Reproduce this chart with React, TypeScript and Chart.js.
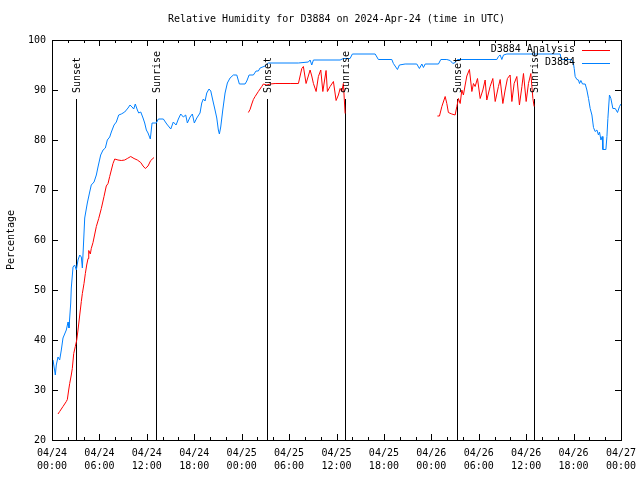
import React, { useEffect, useRef } from "react";
import { Chart, registerables } from "chart.js";

Chart.register(...registerables);

// ---- Data (hours since 2024-04-24 00:00 UTC) ----
const tickHours = [0, 6, 12, 18, 24, 30, 36, 42, 48, 54, 60, 66, 72];
const tickDates = ["04/24", "04/24", "04/24", "04/24", "04/25", "04/25", "04/25", "04/25", "04/26", "04/26", "04/26", "04/26", "04/27"];
const tickTimes = ["00:00", "06:00", "12:00", "18:00", "00:00", "06:00", "12:00", "18:00", "00:00", "06:00", "12:00", "18:00", "00:00"];

const sunHours = [3.04, 13.16, 27.17, 37.09, 51.22, 61.05];
const sunLabels = ["Sunset", "Sunrise", "Sunset", "Sunrise", "Sunset", "Sunrise"];
const sunLineTop = 88.3;

const obsHours = [
  0.13, 0.42, 0.54, 0.76, 0.97, 1.18, 1.39, 1.81, 2.03, 2.15, 2.37, 2.44, 2.66, 2.87, 3.08, 3.29, 3.51, 3.71, 3.84, 4.01,
  4.14, 4.47, 4.77, 4.97, 5.32, 5.61, 5.82, 6.16, 6.46, 6.75, 7.0, 7.3, 7.51, 7.85, 8.14, 8.44, 8.77, 9.2, 9.62, 9.87,
  10.13, 10.34, 10.54, 10.8, 10.97, 11.23, 11.52, 11.73, 11.94, 12.15, 12.44, 12.66, 13.2, 13.46, 14.09, 14.52, 15.03, 15.35, 15.7, 15.99,
  16.29, 16.62, 16.92, 17.13, 17.47, 17.76, 18.01, 18.32, 18.73, 18.95, 19.15, 19.37, 19.58, 19.87, 20.09, 20.34, 20.63, 20.85, 21.05, 21.18,
  21.35, 21.61, 21.9, 22.19, 22.53, 22.95, 23.38, 23.71, 24.43, 24.65, 24.94, 25.48, 25.82, 26.11, 26.33, 26.96, 27.38, 31.18, 32.44, 32.66,
  32.87, 33.08, 36.46, 36.87, 37.72, 38.01, 40.89, 41.3, 43.0, 43.2, 43.71, 43.96, 44.68, 46.16, 46.49, 46.8, 47.0, 47.22, 48.9, 49.2,
  49.96, 50.38, 50.72, 51.01, 51.3, 56.29, 56.49, 56.71, 56.92, 57.13, 57.56, 64.3, 64.43, 65.78, 65.99, 66.08, 66.2, 66.42, 66.62, 66.75,
  66.92, 67.13, 67.47, 67.68, 67.89, 68.1, 68.32, 68.52, 68.73, 68.95, 69.15, 69.28, 69.46, 69.62, 69.71, 70.09, 70.22, 70.34, 70.54, 70.72,
  70.97, 71.27, 71.56, 71.81, 72.0,
];
const obsValues = [
  36, 33, 35, 36.6, 36, 38, 40.4, 42, 43.6, 42.4, 47.4, 50.4, 54.6, 55, 54, 56, 57, 56.6, 54.4, 60,
  64.4, 67.4, 69.6, 71, 71.6, 73, 74.6, 77, 78, 78.4, 80, 80.6, 81.6, 83, 83.6, 85, 85.2, 85.6, 86.4, 87,
  86.6, 86.2, 87.2, 86, 85.4, 85.6, 84.4, 83.4, 82, 81.4, 80.2, 83.4, 83.4, 84.2, 84.2, 83.2, 82.2, 83.6, 83, 84.2,
  85.2, 84.6, 85, 83.4, 84.6, 85.2, 83.4, 84.4, 85.4, 87.4, 88.2, 87.8, 89.4, 90.2, 89.8, 88, 86, 84.4, 82, 81.2,
  82.6, 86, 89.4, 91.4, 92.4, 93, 93, 91.2, 91.2, 91.8, 93, 93, 93.8, 93.8, 94.4, 94.8, 95.4, 95.4, 95.6, 96,
  95, 96, 96, 96.3, 96.3, 97.2, 97.2, 96.1, 96.1, 95.3, 94.1, 95, 95.2, 95.2, 94.3, 95.2, 94.5, 95.2, 95.2, 96.1,
  96.1, 95.9, 95.3, 95.5, 96.1, 96.1, 96.7, 97, 96.1, 97, 97.2, 97.2, 96.1, 96.1, 95.2, 94.3, 92.7, 92.1, 92, 91.3,
  91.9, 91.2, 91.2, 90, 88.3, 86.3, 85, 82.5, 81.7, 82, 81, 81.6, 80, 80.7, 78.1, 78.1, 80.7, 84.3, 89, 88.3,
  86.3, 86.3, 85.5, 86.7, 87.2,
];

const anaHours = [
  0.76, 0.97, 1.39, 1.81, 1.94, 2.11, 2.24, 2.44, 2.57, 2.75, 2.95, 3.13, 3.29, 3.51, 3.71, 3.84, 4.05, 4.22, 4.39, 4.56,
  4.65, 4.85, 4.97, 5.19, 5.61, 5.91, 6.24, 6.58, 6.87, 7.09, 7.3, 7.51, 7.72, 7.94, 8.35, 8.77, 9.2, 9.53, 9.96, 10.38,
  10.8, 11.23, 11.52, 11.81, 12.15, 12.49, 12.91,
  20.0,
  24.85, 25.06, 25.28, 25.48, 25.7, 26.11, 26.54, 26.75, 27.18, 27.59, 28.23, 30.13, 31.18, 31.61, 31.81, 32.15, 32.66, 32.87, 33.08, 33.42,
  33.71, 34.01, 34.27, 34.68, 34.85, 35.19, 35.61, 35.95, 36.24, 36.46, 36.67, 36.87, 37.09,
  44.0,
  48.77, 49.03, 49.33, 49.75, 49.96, 50.16, 50.59, 51.01, 51.23, 51.43, 51.65, 51.86, 52.06, 52.28, 52.49, 52.82, 53.13, 53.33, 53.54, 53.84,
  54.18, 54.52, 54.81, 55.02, 55.44, 55.78, 56.08, 56.49, 56.71, 57.05, 57.34, 57.63, 57.97, 58.19, 58.48, 58.82, 59.15, 59.46, 59.66, 60.0,
  60.29, 60.59, 60.85, 61.01,
];
const anaValues = [
  25.2, 25.7, 26.7, 27.7, 28.1, 30, 31.3, 33, 34.3, 37.3, 38.7, 40, 42, 45, 47.7, 49.3, 51.3, 53.3, 55, 56.3,
  57.9, 57.2, 58.3, 59.5, 62.7, 64.3, 66.3, 68.7, 70.8, 71.3, 72.7, 74, 75.3, 76.2, 76, 75.9, 76, 76.3, 76.7, 76.3,
  76, 75.5, 74.8, 74.3, 74.8, 75.9, 76.5,
  null,
  85.5, 86.1, 87.2, 88.1, 88.7, 89.7, 90.7, 91.2, 91, 91.2, 91.3, 91.3, 91.3, 94.3, 94.7, 91.3, 94, 92.8, 91.3, 89.7,
  92.7, 94, 89.7, 93.9, 89.7, 90.7, 91.7, 87.9, 89, 90.3, 89.7, 91.3, 85.3,
  null,
  84.8, 84.8, 86.7, 88.7, 87.3, 85.5, 85.2, 85, 86.7, 88.3, 87.3, 90, 89, 91, 92.8, 94.1, 89.7, 91.3, 90.7, 92.3,
  88.3, 90, 92, 88, 90.7, 92.3, 87.7, 90.7, 92.1, 87.3, 90, 92.3, 93, 87.7, 91.3, 92.7, 87, 90.7, 93.3, 87.7,
  91.3, 93.3, 88.3, 86.7,
];

const RED = "#ff0000";
const BLUE = "#0080ff";
const FONT = '10px "DejaVu Sans Mono", "Liberation Mono", monospace';

const decorPlugin = {
  id: "decor",
  beforeDatasetsDraw(chart: any) {
    const { ctx, scales } = chart;
    const x = scales.x;
    const y = scales.y;
    ctx.save();
    ctx.strokeStyle = "#000";
    ctx.lineWidth = 1;
    sunHours.forEach((h) => {
      const px = Math.round(x.getPixelForValue(h)) + 0.5;
      ctx.beginPath();
      ctx.moveTo(px, y.getPixelForValue(20));
      ctx.lineTo(px, Math.round(y.getPixelForValue(sunLineTop)));
      ctx.stroke();
    });
    ctx.restore();
  },
  afterDraw(chart: any) {
    const { ctx, chartArea: a, scales } = chart;
    const x = scales.x;
    const y = scales.y;
    ctx.save();
    ctx.strokeStyle = "#000";
    ctx.lineWidth = 1;
    const seg = (x1: number, y1: number, x2: number, y2: number) => {
      ctx.beginPath();
      ctx.moveTo(x1, y1);
      ctx.lineTo(x2, y2);
      ctx.stroke();
    };
    // frame
    ctx.strokeRect(Math.round(a.left) + 0.5, Math.round(a.top) + 0.5, Math.round(a.right - a.left), Math.round(a.bottom - a.top));
    // x ticks (major every 6h, minor every 2h)
    for (let h = 0; h <= 72; h += 2) {
      const px = Math.round(x.getPixelForValue(h)) + 0.5;
      const len = h % 6 === 0 ? 6 : 3;
      seg(px, a.bottom, px, a.bottom - len);
      seg(px, a.top, px, a.top + len);
    }
    // y ticks
    for (let v = 20; v <= 100; v += 10) {
      const py = Math.round(y.getPixelForValue(v)) + 0.5;
      seg(a.left, py, a.left + 6, py);
      seg(a.right, py, a.right - 6, py);
    }
    ctx.fillStyle = "#000";
    ctx.font = FONT;
    // sun labels
    sunHours.forEach((h, i) => {
      const px = Math.round(x.getPixelForValue(h)) + 1;
      const py = Math.round(y.getPixelForValue(sunLineTop)) - 6;
      ctx.save();
      ctx.translate(px, py);
      ctx.rotate(-Math.PI / 2);
      ctx.textAlign = "left";
      ctx.textBaseline = "middle";
      ctx.fillText(sunLabels[i], 0, 0);
      ctx.restore();
    });
    // title
    ctx.textAlign = "center";
    ctx.textBaseline = "middle";
    ctx.fillText("Relative Humidity for D3884 on 2024-Apr-24 (time in UTC)", (a.left + a.right) / 2, 19);
    // y title
    ctx.save();
    ctx.translate(11, (a.top + a.bottom) / 2);
    ctx.rotate(-Math.PI / 2);
    ctx.fillText("Percentage", 0, 0);
    ctx.restore();
    // legend
    chart.data.datasets.forEach((ds: any, i: number) => {
      const ly = a.top + 9.5 + i * 13;
      ctx.textAlign = "right";
      ctx.textBaseline = "middle";
      ctx.fillStyle = "#000";
      ctx.fillText(ds.label, a.right - 46, ly);
      ctx.strokeStyle = ds.borderColor;
      ctx.beginPath();
      ctx.moveTo(a.right - 39, Math.round(ly) + 0.5);
      ctx.lineTo(a.right - 11, Math.round(ly) + 0.5);
      ctx.stroke();
    });
    ctx.restore();
  },
};

export default function App() {
  const ref = useRef<HTMLCanvasElement | null>(null);
  useEffect(() => {
    if (!ref.current) return;
    const chart = new Chart(ref.current, {
      type: "line",
      data: {
        datasets: [
          {
            label: "D3884 Analysis",
            data: anaHours.map((h, i) => ({ x: h, y: anaValues[i] as any })),
            borderColor: RED,
            borderWidth: 1,
            pointRadius: 0,
            tension: 0,
            spanGaps: false,
          },
          {
            label: "D3884",
            data: obsHours.map((h, i) => ({ x: h, y: obsValues[i] })),
            borderColor: BLUE,
            borderWidth: 1,
            pointRadius: 0,
            tension: 0,
          },
        ],
      },
      options: {
        responsive: false,
        animation: false,
        parsing: true,
        layout: { padding: { top: 40, right: 19, bottom: 0, left: 0 } },
        plugins: { legend: { display: false }, title: { display: false }, tooltip: { enabled: false } },
        scales: {
          x: {
            type: "linear",
            min: 0,
            max: 72,
            grid: { display: false, drawTicks: false },
            border: { display: false },
            afterFit: (s: any) => {
              s.height = 40;
              s.paddingLeft = 0;
              s.paddingRight = 0;
            },
            afterBuildTicks: (s: any) => {
              s.ticks = tickHours.map((v) => ({ value: v }));
            },
            ticks: {
              autoSkip: false,
              maxRotation: 0,
              minRotation: 0,
              padding: 7,
              color: "#000",
              font: { family: '"DejaVu Sans Mono", "Liberation Mono", monospace', size: 10, lineHeight: 1.3 },
              callback: (v: any) => {
                const i = tickHours.indexOf(Number(v));
                return i >= 0 ? [tickDates[i], tickTimes[i]] : "";
              },
            },
          },
          y: {
            min: 20,
            max: 100,
            grid: { display: false, drawTicks: false },
            border: { display: false },
            afterFit: (s: any) => {
              s.width = 52;
              s.paddingTop = 0;
              s.paddingBottom = 0;
            },
            ticks: {
              stepSize: 10,
              padding: 6,
              color: "#000",
              font: { family: '"DejaVu Sans Mono", "Liberation Mono", monospace', size: 10 },
            },
          },
        },
      },
      plugins: [decorPlugin],
    });
    return () => chart.destroy();
  }, []);
  return (
    <div style={{ position: "absolute", left: 0, top: 0, width: 640, height: 480, background: "#fff" }}>
      <canvas ref={ref} width={640} height={480} style={{ display: "block" }} />
    </div>
  );
}
